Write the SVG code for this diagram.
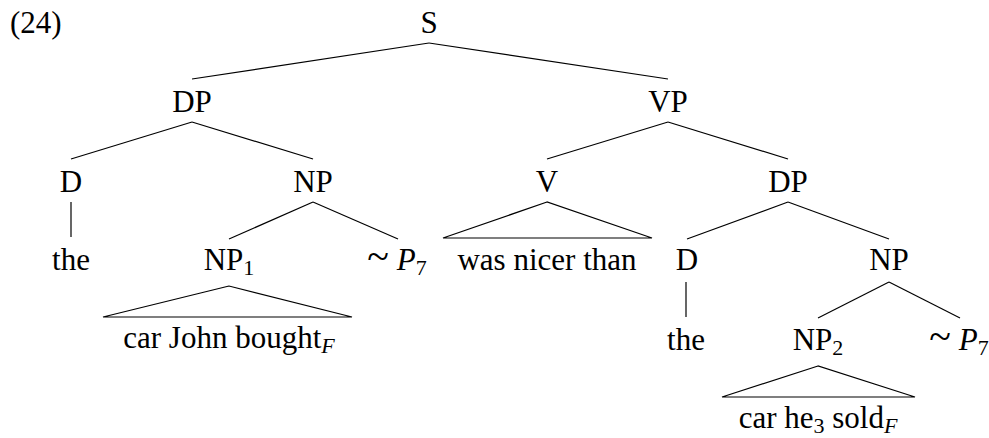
<svg xmlns="http://www.w3.org/2000/svg" width="989" height="438" viewBox="0 0 989 438">
<style>
text{font-family:"Liberation Serif","Times New Roman",serif;font-size:31px;fill:#000;text-anchor:middle}
.sub{font-size:22px}
.it{font-style:italic}
.sim{font-size:40px}
.edges line,.edges polygon{stroke:#000;stroke-width:1.2;fill:none}
</style>
<rect width="989" height="438" fill="#fff"/>
<text x="10" y="33" style="text-anchor:start">(24)</text>
<g class="edges" id="connectors">
<line x1="429" y1="43" x2="192" y2="79"/>
<line x1="429" y1="43" x2="668" y2="79"/>
<line x1="192" y1="122" x2="71" y2="159"/>
<line x1="192" y1="122" x2="313" y2="159"/>
<line x1="668" y1="122" x2="547" y2="159"/>
<line x1="668" y1="122" x2="788" y2="159"/>
<line x1="71" y1="202" x2="71" y2="237"/>
<line x1="313" y1="202" x2="229" y2="239"/>
<line x1="313" y1="202" x2="398" y2="239"/>
<polygon points="547,202 443,238 652,238"/>
<line x1="788" y1="202" x2="687" y2="239"/>
<line x1="788" y1="202" x2="889" y2="239"/>
<polygon points="229,286 103,317 352,317"/>
<line x1="686" y1="282" x2="686" y2="317"/>
<line x1="889" y1="282" x2="818" y2="318"/>
<line x1="889" y1="282" x2="960" y2="318"/>
<polygon points="818,366 722,397 915,397"/>
</g>
<g id="S"><text x="429" y="33">S</text></g>
<g id="DP1"><text x="192" y="112">DP</text></g>
<g id="VP"><text x="668" y="112">VP</text></g>
<g id="D1"><text x="71" y="192">D</text></g>
<g id="NP1a"><text x="313" y="192">NP</text></g>
<g id="V"><text x="547" y="192">V</text></g>
<g id="DP2"><text x="788" y="192">DP</text></g>
<g id="the1"><text x="71" y="270">the</text></g>
<g id="NP1"><text x="229" y="270">NP<tspan class="sub" dy="5">1</tspan></text></g>
<g id="P7a"><text x="397" y="270"><tspan class="sim">~</tspan> <tspan class="it">P</tspan><tspan class="sub" dy="5">7</tspan></text></g>
<g id="wasnicer"><text x="547" y="270">was nicer than</text></g>
<g id="D2"><text x="687" y="270">D</text></g>
<g id="NP2a"><text x="889" y="270">NP</text></g>
<g id="carjohn"><text x="229" y="348">car John bought<tspan class="sub it" dy="5">F</tspan></text></g>
<g id="the2"><text x="686" y="350">the</text></g>
<g id="NP2"><text x="818" y="350">NP<tspan class="sub" dy="5">2</tspan></text></g>
<g id="P7b"><text x="959" y="350"><tspan class="sim">~</tspan> <tspan class="it">P</tspan><tspan class="sub" dy="5">7</tspan></text></g>
<g id="carhe"><text x="818" y="428">car he<tspan class="sub" dy="5">3</tspan><tspan dy="-5"> sold</tspan><tspan class="sub it" dy="5">F</tspan></text></g>
</svg>
